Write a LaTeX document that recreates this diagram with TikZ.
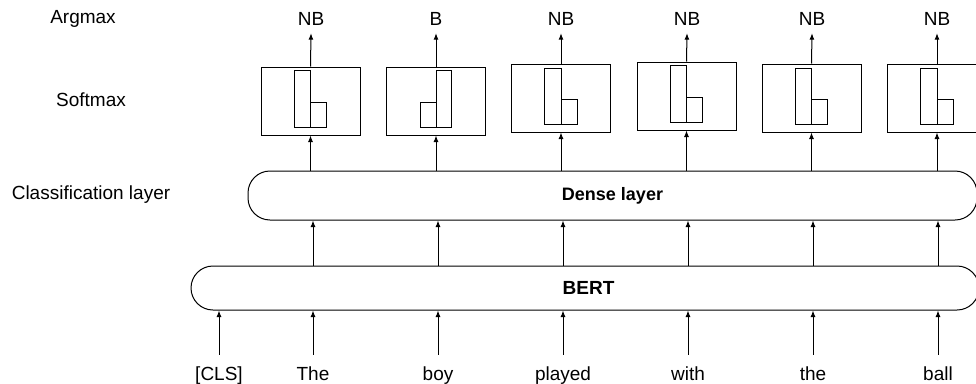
\documentclass[tikz,border=0pt]{standalone}
\usepackage{fontspec}
\setmainfont{Liberation Sans}
\usetikzlibrary{arrows.meta,calc}

\tikzset{
  every node/.style={font=\fontsize{19}{21}\selectfont},
  txt/.style={text height=13pt, text depth=4pt, inner xsep=0pt},
  word/.style={txt, inner ysep=12pt, anchor=base},
  argout/.style={txt, text depth=0pt, inner ysep=8pt, anchor=base},
  probbox/.style={draw, line width=1pt, minimum width=99pt, minimum height=68pt, inner sep=0pt},
  layerbox/.style={draw, line width=1pt, rounded corners=22pt, inner sep=0pt, font=\fontsize{18}{20}\selectfont\bfseries},
  bar/.style={draw, line width=1pt},
  up/.style={->, line width=1pt, >={Latex[length=6.5pt,width=5pt]}}
}

\begin{document}
\begin{tikzpicture}[x=1pt, y=-1pt]
            \useasboundingbox (0, 0) rectangle (976, 383);
            \clip (0, 0) rectangle (976, 383);
            % row names
            \node (argname) at (83, 19) {Argmax};
            \node (softname) at (91, 100) {Softmax};
            \node (clsname) at (91, 195) {Classification layer};
            % input tokens
            \node[word] (w0) at (219, 380) {[CLS]};
            \node[word] (w1) at (313, 380) {The};
            \node[word] (w2) at (438, 380) {boy};
            \node[word] (w3) at (563, 380) {played};
            \node[word] (w4) at (688, 380) {with};
            \node[word] (w5) at (813, 380) {the};
            \node[word] (w6) at (938, 380) {ball};
            % layers
            \node[layerbox, minimum width=788pt, minimum height=44pt] (bert) at (585, 288) {};
            \node (bertname) at (588.5, 288) {\bfseries BERT};
            \node[layerbox, minimum width=729pt, minimum height=49pt] (dense) at (612.5, 195.5) {Dense layer};
            % softmax boxes
            \node[probbox] (s1) at (310.5, 101) {};
            \node[probbox] (s2) at (436, 101) {};
            \node[probbox] (s3) at (561, 98) {};
            \node[probbox] (s4) at (686.5, 96) {};
            \node[probbox] (s5) at (811.5, 98) {};
            \node[probbox] (s6) at (937, 98) {};
            % bars
            \draw[bar] ($(s1.center)+(-16.5, 26)$) rectangle ($(s1.center)+(0, -31)$);
            \draw[bar] ($(s1.center)+(0, 26)$) rectangle ($(s1.center)+(16, 1)$);
            \draw[bar] ($(s2.center)+(-16, 26)$) rectangle ($(s2.center)+(0, 1)$);
            \draw[bar] ($(s2.center)+(0, 26)$) rectangle ($(s2.center)+(15.5, -31)$);
            \draw[bar] ($(s3.center)+(-16.5, 26)$) rectangle ($(s3.center)+(0, -30)$);
            \draw[bar] ($(s3.center)+(0, 26)$) rectangle ($(s3.center)+(16, 1)$);
            \draw[bar] ($(s4.center)+(-16.5, 26)$) rectangle ($(s4.center)+(0, -31)$);
            \draw[bar] ($(s4.center)+(0, 26)$) rectangle ($(s4.center)+(16, 1)$);
            \draw[bar] ($(s5.center)+(-16.5, 26)$) rectangle ($(s5.center)+(0, -30)$);
            \draw[bar] ($(s5.center)+(0, 26)$) rectangle ($(s5.center)+(16, 1)$);
            \draw[bar] ($(s6.center)+(-16.5, 26)$) rectangle ($(s6.center)+(0, -30)$);
            \draw[bar] ($(s6.center)+(0, 26)$) rectangle ($(s6.center)+(16, 1)$);
            % argmax outputs
            \node[argout] (o1) at (311, 25) {NB};
            \node[argout] (o2) at (436, 25) {B};
            \node[argout] (o3) at (561, 25) {NB};
            \node[argout] (o4) at (687, 25) {NB};
            \node[argout] (o5) at (812, 25) {NB};
            \node[argout] (o6) at (937, 25) {NB};
            % tokens into BERT
            \draw[up] (w0.north) -- (w0.north |- bert.south);
            \draw[up] (w1.north) -- (w1.north |- bert.south);
            \draw[up] (w2.north) -- (w2.north |- bert.south);
            \draw[up] (w3.north) -- (w3.north |- bert.south);
            \draw[up] (w4.north) -- (w4.north |- bert.south);
            \draw[up] (w5.north) -- (w5.north |- bert.south);
            \draw[up] (w6.north) -- (w6.north |- bert.south);
            % BERT into dense layer
            \draw[up] (bert.north -| w1) -- (dense.south -| w1);
            \draw[up] (bert.north -| w2) -- (dense.south -| w2);
            \draw[up] (bert.north -| w3) -- (dense.south -| w3);
            \draw[up] (bert.north -| w4) -- (dense.south -| w4);
            \draw[up] (bert.north -| w5) -- (dense.south -| w5);
            \draw[up] (bert.north -| w6) -- (dense.south -| w6);
            % dense layer into softmax
            \draw[up] (dense.north -| s1) -- (s1.south);
            \draw[up] (dense.north -| s2) -- (s2.south);
            \draw[up] (dense.north -| s3) -- (s3.south);
            \draw[up] (dense.north -| s4) -- (s4.south);
            \draw[up] (dense.north -| s5) -- (s5.south);
            \draw[up] (dense.north -| s6) -- (s6.south);
            % softmax to argmax
            \draw[up] (s1.north) -- (o1.south);
            \draw[up] (s2.north) -- (o2.south);
            \draw[up] (s3.north) -- (o3.south);
            \draw[up] (s4.north) -- (o4.south);
            \draw[up] (s5.north) -- (o5.south);
            \draw[up] (s6.north) -- (o6.south);
        \end{tikzpicture}
\end{document}
